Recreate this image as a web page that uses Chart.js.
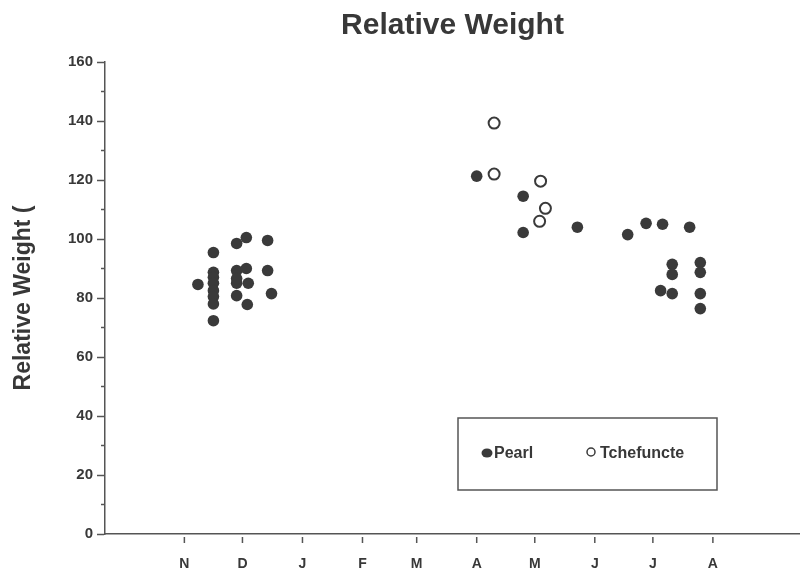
<!DOCTYPE html>
<html>
<head>
<meta charset="utf-8">
<script src="https://cdn.jsdelivr.net/npm/chart.js@4"></script>
<style>
  body { margin: 0; background: #fff; }
  #caja { width: 800px; height: 573px; }
</style>
</head>
<body>
<div id="caja"><canvas id="grafico"></canvas></div>
<script>
// Datos (dia desde el 1 de noviembre, peso relativo)
const mesesDia = [0, 30, 61, 92, 120, 151, 181, 212, 242, 273];
const mesesEtiqueta = ['N', 'D', 'J', 'F', 'M', 'A', 'M', 'J', 'J', 'A'];

const pearlDia = [7, 15, 15, 15, 15, 15, 15, 15, 15, 27, 32, 27, 27, 33, 27, 32.5, 27, 32, 43, 43, 45,
  151, 175, 175, 203, 229, 238.5, 247, 261, 252, 252, 246, 252, 266.5, 266.5, 266.5, 266.5];
const pearlPeso = [84.6, 95.4, 88.7, 87, 85, 82.5, 80.5, 78, 72.3, 89.3, 90, 85, 86.6, 85, 80.8, 77.8, 98.5, 100.5, 99.5, 89.3, 81.5,
  121.3, 114.5, 102.2, 104, 101.5, 105.3, 105, 104, 91.4, 88, 82.5, 81.5, 92, 88.7, 81.5, 76.4];

const tcheDia = [160, 160, 184, 186.5, 183.5];
const tchePeso = [139.3, 122, 119.6, 110.4, 106];

const colorTexto = '#383838';
const colorPunto = '#3a3a3a';
const fuente = '"Liberation Sans", Arial, sans-serif';

// Marcas menores del eje Y y marcas de los meses
const marcasExtra = {
  id: 'marcasExtra',
  afterDraw(chart) {
    const ctx = chart.ctx;
    const y = chart.scales.y;
    const x = chart.scales.x;
    ctx.save();
    ctx.strokeStyle = '#555';
    ctx.lineWidth = 1.5;
    for (let v = 10; v < 160; v += 20) {
      const py = y.getPixelForValue(v);
      ctx.beginPath();
      ctx.moveTo(y.right - 4, py);
      ctx.lineTo(y.right, py);
      ctx.stroke();
    }
    mesesDia.forEach(d => {
      const px = x.getPixelForValue(d);
      ctx.beginPath();
      ctx.moveTo(px, x.top + 3);
      ctx.lineTo(px, x.top + 9);
      ctx.stroke();
    });
    ctx.restore();
  }
};

// Leyenda dentro del area del grafico
const leyendaCaja = {
  id: 'leyendaCaja',
  afterDraw(chart) {
    const ctx = chart.ctx;
    const sets = chart.data.datasets;
    ctx.save();
    ctx.strokeStyle = '#555';
    ctx.lineWidth = 1.5;
    ctx.fillStyle = '#fff';
    ctx.fillRect(458, 418, 259, 72);
    ctx.strokeRect(458, 418, 259, 72);
    ctx.font = 'bold 16px ' + fuente;
    ctx.textBaseline = 'middle';
    ctx.fillStyle = colorPunto;
    ctx.beginPath();
    ctx.ellipse(487, 453, 5.5, 4.5, 0, 0, Math.PI * 2);
    ctx.fill();
    ctx.fillStyle = colorTexto;
    ctx.fillText(sets[0].label, 494, 454);
    ctx.strokeStyle = colorPunto;
    ctx.beginPath();
    ctx.ellipse(591, 452, 4, 4, 0, 0, Math.PI * 2);
    ctx.stroke();
    ctx.fillText(sets[1].label, 600, 454);
    ctx.restore();
  }
};

const ctxGrafico = document.getElementById('grafico').getContext('2d');
new Chart(ctxGrafico, {
  type: 'scatter',
  data: {
    datasets: [{
      label: 'Pearl',
      data: pearlDia.map((d, i) => ({x: d, y: pearlPeso[i]})),
      backgroundColor: colorPunto,
      borderColor: colorPunto,
      borderWidth: 0,
      pointRadius: 5.8,
    }, {
      label: 'Tchefuncte',
      data: tcheDia.map((d, i) => ({x: d, y: tchePeso[i]})),
      backgroundColor: '#fff',
      borderColor: colorPunto,
      borderWidth: 2,
      pointRadius: 5.5,
    }]
  },
  options: {
    responsive: true,
    maintainAspectRatio: false,
    animation: false,
    layout: {autoPadding: false, padding: {left: 0, right: 0, top: 0, bottom: 0}},
    plugins: {
      legend: {display: false},
      tooltip: {enabled: false},
      title: {
        display: true,
        text: 'Relative Weight',
        fullSize: false,
        color: colorTexto,
        font: {family: fuente, size: 30, weight: 'bold'},
        padding: {top: 8, bottom: 18}
      }
    },
    scales: {
      x: {
        type: 'linear',
        min: -41,
        max: 318,
        afterBuildTicks: (scale) => {
          scale.ticks = mesesDia.map(v => ({value: v}));
        },
        afterFit: (scale) => { scale.height = 39; },
        ticks: {
          autoSkip: false,
          maxRotation: 0,
          padding: 22,
          color: colorTexto,
          font: {family: fuente, size: 14, weight: 'bold'},
          callback: (v, i) => mesesEtiqueta[i]
        },
        grid: {display: true, drawOnChartArea: false, drawTicks: false},
        border: {color: '#555', width: 1.5}
      },
      y: {
        min: 0,
        max: 160,
        afterFit: (scale) => { scale.width = 105; },
        ticks: {
          stepSize: 20,
          padding: 4,
          color: colorTexto,
          font: {family: fuente, size: 15, weight: 'bold'}
        },
        grid: {drawOnChartArea: false, drawTicks: true, tickLength: 8, tickColor: '#555', tickWidth: 1.5},
        border: {color: '#555', width: 1.5},
        title: {
          display: true,
          text: 'Relative Weight (',
          color: colorTexto,
          font: {family: fuente, size: 23, weight: 'bold'},
          padding: {top: 10, bottom: 0}
        }
      }
    }
  },
  plugins: [marcasExtra, leyendaCaja]
});
</script>
</body>
</html>
